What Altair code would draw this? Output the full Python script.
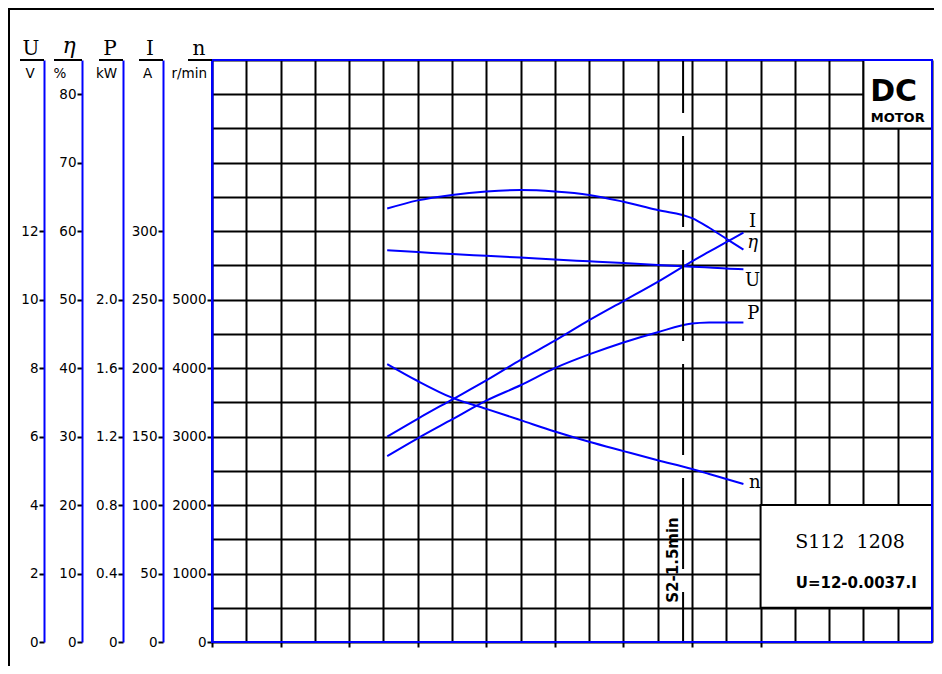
import altair as alt
import pandas as pd

# ---------------- data ----------------
# x position along the (unlabelled) torque axis, in grid divisions
M = [5.11, 6, 7, 8, 9, 10, 11, 12, 13, 14, 14.5, 15, 15.5]
U_V = [11.44, 11.39, 11.33, 11.28, 11.23, 11.17, 11.12, 11.07, 11.01, 10.96, 10.94, 10.91, 10.89]
ETA = [63.3, 64.5, 65.3, 65.8, 66.0, 65.8, 65.3, 64.3, 63.1, 61.9, 60.5, 58.9, 57.3]
P_KW = [1.086, 1.19, 1.30, 1.41, 1.50, 1.60, 1.68, 1.75, 1.81, 1.86, 1.866, 1.867, 1.867]
I_A = [150, 163, 177, 191, 206, 220, 235, 249, 263, 278, 285, 292, 299]
N_RPM = [4060, 3812, 3568, 3405, 3240, 3074, 2924, 2788, 2654, 2527, 2454, 2380, 2308]

SYMBOLS = ["U", "η", "P", "I", "n"]
UNITS = ["V", "%", "kW", "A", "r/min"]
U_TICKS = [0, 2, 4, 6, 8, 10, 12]
ETA_TICKS = [0, 10, 20, 30, 40, 50, 60, 70, 80]
P_TICKS = [0, 0.4, 0.8, 1.2, 1.6, 2.0]
I_TICKS = [0, 50, 100, 150, 200, 250, 300]
N_GRID = list(range(0, 8501, 500))
M_GRID = list(range(0, 22))

# curve end labels, in each series' own units
LBL_I = (15.77, 303.2)
LBL_ETA = (15.77, 57.5)
LBL_U = (15.77, 10.40)
LBL_P = (15.79, 1.885)
LBL_N = (15.83, 2245)

RATED_M = [13.74]
DUTY = "S2-1.5min"
MODEL = "S112\u00a0 1208"
FORMULA = "U=12-0.0037.I"

# ---------------- layout / style ----------------
BLUE = "#0000ff"
SANS = "DejaVu Sans"
SERIF = "DejaVu Serif"
W, H = 720, 582
X_DOM = [0, 21]
U_DOM, ETA_DOM, P_DOM, I_DOM, N_DOM = [0, 17], [0, 85], [0, 3.4], [0, 425], [0, 8500]
AXIS_OFF = [168, 130, 89, 49, 0]          # U, eta, P, I, n (px left of plot)
UNIT_DX = [-14, -22, -16.5, -15.5, -22.7]
LABEL_SIZE = 13.5

df = pd.DataFrame({"M": M, "U": U_V, "eta": ETA, "P": P_KW, "I": I_A, "n": N_RPM})
one = pd.DataFrame({"k": [0]})


def sc(dom):
    return alt.Scale(domain=dom, nice=False, zero=False)


def xs(field="M"):
    return alt.X(f"{field}:Q", scale=sc(X_DOM), axis=None)


def side_axis(values, offset, label_expr):
    return alt.Axis(values=values, orient="left", offset=offset, title=None, grid=False,
                    domainColor=BLUE, domainWidth=2, tickColor="black", tickWidth=2,
                    tickSize=5, labelFont=SANS, labelFontSize=LABEL_SIZE, labelColor="black",
                    labelPadding=1, labelOverlap=False, labelExpr=label_expr)


def curve(field, dom, axis):
    return alt.Chart(df).mark_line(color=BLUE, strokeWidth=2, interpolate="monotone").encode(
        x=xs(), y=alt.Y(f"{field}:Q", scale=sc(dom), axis=axis))


def end_label(field, dom, label, lbl, style="normal", size=18):
    lab_df = pd.DataFrame({"M": [lbl[0]], field: [lbl[1]], "t": [label]})
    return alt.Chart(lab_df).mark_text(font=SERIF, fontSize=size, fontStyle=style, align="center",
                                       baseline="alphabetic", color="black").encode(
        x=xs(), y=alt.Y(f"{field}:Q", scale=sc(dom), axis=None), text="t:N")


# ---- grid, n axis, bottom ticks, white inset boxes ----
boxes = pd.DataFrame({"x0": [16, 19], "x1": [21, 21], "y0": [500, 7500], "y1": [2000, 8500]})
gx_axis = alt.Axis(values=M_GRID, orient="bottom", title=None, grid=True, gridColor="black",
                   gridWidth=2, labels=False, domain=False, tickColor="black", tickWidth=2,
                   tickSize=5,
                   tickOpacity={"condition": {"test": "datum.value % 2 === 0 && datum.value <= 16",
                                              "value": 1}, "value": 0})
gy_axis = alt.Axis(values=N_GRID, orient="left", title=None, grid=True, gridColor="black",
                   gridWidth=2, domainColor=BLUE, domainWidth=2, tickColor="black",
                   tickWidth=2, tickSize=5, labelFont=SANS, labelFontSize=LABEL_SIZE,
                   labelColor="black", labelPadding=1, labelOverlap=False,
                   labelExpr="datum.value <= 5000 && datum.value % 1000 === 0 ? format(datum.value, 'd') : ''",
                   tickOpacity={"condition": {"test": "datum.value <= 5000 && datum.value % 1000 === 0",
                                              "value": 1}, "value": 0})
grid = alt.Chart(boxes).mark_rect(fill="white", stroke="black", strokeWidth=2).encode(
    x=alt.X("x0:Q", scale=sc(X_DOM), axis=gx_axis), x2="x1:Q",
    y=alt.Y("y0:Q", scale=sc(N_DOM), axis=gy_axis), y2="y1:Q")

curves = [
    curve("U", U_DOM, side_axis(U_TICKS, AXIS_OFF[0], "format(datum.value, 'd')")),
    curve("eta", ETA_DOM, side_axis(ETA_TICKS, AXIS_OFF[1], "format(datum.value, 'd')")),
    curve("P", P_DOM, side_axis(P_TICKS, AXIS_OFF[2],
                                "datum.value == 0 ? '0' : format(datum.value, '.1f')")),
    curve("I", I_DOM, side_axis(I_TICKS, AXIS_OFF[3], "format(datum.value, 'd')")),
    curve("n", N_DOM, None),
]
labels = [
    end_label("U", U_DOM, "U", LBL_U),
    end_label("eta", ETA_DOM, "η", LBL_ETA, "italic", 18),
    end_label("P", P_DOM, "P", LBL_P),
    end_label("I", I_DOM, "I", LBL_I),
    end_label("n", N_DOM, "n", LBL_N),
]

# ---- dashed S2 line ----
rated = alt.Chart(pd.DataFrame({"M": RATED_M, "top": [N_DOM[1]], "bot": [N_DOM[0]]})).mark_rule(
    color="black", strokeWidth=2, strokeDash=[91, 23], strokeDashOffset=38).encode(
    x=xs(), y=alt.Y("top:Q", scale=sc(N_DOM), axis=None), y2="bot:Q")


def ann(txt, m, n, size, font, weight="normal", angle=0, baseline="alphabetic"):
    d = pd.DataFrame({"M": [m], "n": [n]})
    return alt.Chart(d).mark_text(text=txt, font=font, fontSize=size, fontWeight=weight,
                                  angle=angle, align="center", baseline=baseline,
                                  color="black").encode(
        x=xs(), y=alt.Y("n:Q", scale=sc(N_DOM), axis=None))


annots = [
    ann(DUTY, 13.45, 1198, 15, SANS, "bold", 270, "middle"),
    ann(MODEL, 18.61, 1373, 19, SERIF),
    ann(FORMULA, 18.79, 793, 15, SANS, "bold"),
    ann("DC", 19.88, 7900, 30, SANS, "bold"),
    ann("MOTOR", 20.0, 7599, 13, SANS, "bold"),
]

# ---- blue plot outline ----
outline = alt.Chart(pd.DataFrame({"a": [X_DOM[0]], "b": [X_DOM[1]], "c": [N_DOM[0]], "d": [N_DOM[1]]})
                    ).mark_rect(filled=False, stroke=BLUE, strokeWidth=2).encode(
    x=alt.X("a:Q", scale=sc(X_DOM), axis=None), x2="b:Q",
    y=alt.Y("c:Q", scale=sc(N_DOM), axis=None), y2="d:Q")

# ---- header (symbol, underline, unit) above each axis ----
header = []
for sym, unit, off, udx in zip(SYMBOLS, UNITS, AXIS_OFF, UNIT_DX):
    ulen = 28 if sym == "η" else 24
    is_eta = sym == "η"
    header.append(alt.Chart(one).mark_text(text=sym, font=SERIF, fontSize=22 if is_eta else 20,
                                           fontStyle="italic" if is_eta else "normal",
                                           align="center", baseline="alphabetic",
                                           color="black").encode(
        x=alt.value(-off - 13), y=alt.value(-7 if is_eta else -5)))
    header.append(alt.Chart(one).mark_rule(color="black", strokeWidth=2).encode(
        x=alt.value(-off - ulen), x2=alt.value(-off), y=alt.value(0)))
    header.append(alt.Chart(one).mark_text(text=unit, font=SANS, fontSize=13.5, align="center",
                                           baseline="alphabetic", color="black").encode(
        x=alt.value(-off + udx), y=alt.value(18)))

# ---- outer frame ----
frame = [
    alt.Chart(one).mark_rule(color="black", strokeWidth=2).encode(
        x=alt.value(-204), x2=alt.value(732), y=alt.value(-51)),
    alt.Chart(one).mark_rule(color="black", strokeWidth=2).encode(
        x=alt.value(-203), y=alt.value(-52), y2=alt.value(606)),
]

chart = alt.layer(grid, *curves, *labels, rated, *annots, outline, *header, *frame
                  ).resolve_scale(x="independent", y="independent").properties(
    width=W, height=H,
    padding={"left": 204, "top": 52, "right": 2, "bottom": 24},
    autosize=alt.AutoSizeParams(type="none"),
).configure_view(strokeWidth=0).configure(background="white")

chart.save("out.html", embed_options={"renderer": "svg", "actions": False})
